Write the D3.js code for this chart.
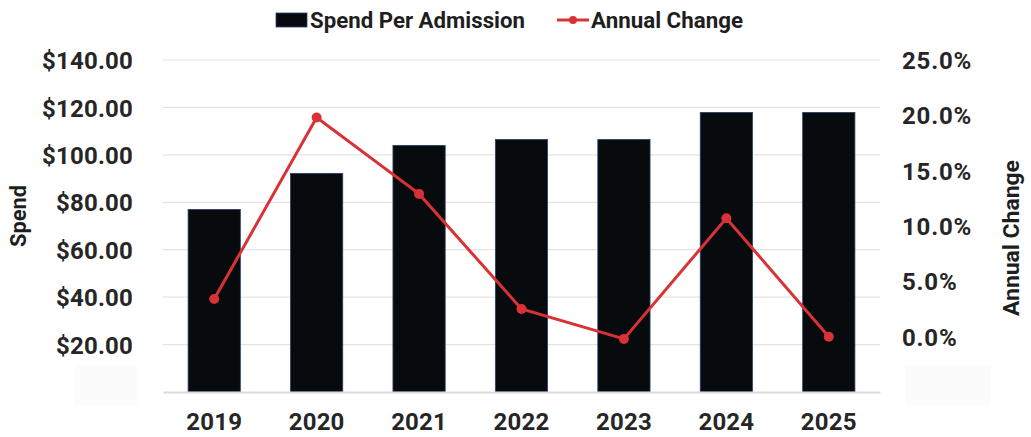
<!DOCTYPE html>
<head>
  <meta charset="utf-8">
  <script src="https://d3js.org/d3.v7.min.js"></script>
  <style>
    body { margin: 0; background: #fff; }
    .tick-label { font-family: Roboto, "Liberation Sans", sans-serif; font-weight: bold; font-size: 24px; letter-spacing: 0.2px; fill: #262626; }
    .title { font-family: Roboto, "Liberation Sans", sans-serif; font-weight: bold; font-size: 21.5px; fill: #1e1e1e; }
  </style>
</head>
<body>
<div id="my_dataviz"></div>
<script>

// data
var years = ["2019", "2020", "2021", "2022", "2023", "2024", "2025"];
var spend = [77.0, 92.2, 104.0, 106.5, 106.5, 117.9, 117.9];
var annualChange = [3.4, 19.8, 12.9, 2.5, -0.2, 10.7, 0.0];
var spendTicks = [20, 40, 60, 80, 100, 120, 140];
var changeTicks = [0, 5, 10, 15, 20, 25];

var width = 1031, height = 437;
var plot = {left: 163, right: 880, top: 60, bottom: 392};

var svg = d3.select("#my_dataviz")
  .append("svg")
    .attr("width", width)
    .attr("height", height);

var x = d3.scaleBand()
  .domain(years)
  .range([plot.left, plot.right])
  .paddingInner(0.49)
  .paddingOuter(0.245);

var y = d3.scaleLinear()
  .domain([0, 140])
  .range([plot.bottom, plot.top]);

var y2 = d3.scaleLinear()
  .domain([-5, 25])
  .range([plot.bottom, plot.top]);

// gridlines
svg.append("g")
  .selectAll("line")
  .data(spendTicks)
  .enter()
  .append("line")
    .attr("x1", plot.left)
    .attr("x2", plot.right)
    .attr("y1", function(d) { return y(d); })
    .attr("y2", function(d) { return y(d); })
    .attr("stroke", "#e4e4e4")
    .attr("stroke-width", 1.2);

// left axis
var leftAxis = svg.append("g")
  .attr("transform", "translate(" + (plot.left - 30) + ",0)")
  .call(d3.axisLeft(y).tickValues(spendTicks).tickSize(0).tickPadding(0)
    .tickFormat(function(d) { return "$" + d3.format(".2f")(d); }));
leftAxis.select(".domain").remove();
leftAxis.selectAll("text").attr("class", "tick-label").attr("dy", "0.36em");

// right axis
var rightAxis = svg.append("g")
  .attr("transform", "translate(" + (plot.right + 22) + ",0)")
  .call(d3.axisRight(y2).tickValues(changeTicks).tickSize(0).tickPadding(0)
    .tickFormat(function(d) { return d3.format(".1f")(d) + "%"; }));
rightAxis.select(".domain").remove();
rightAxis.selectAll("text").attr("class", "tick-label").attr("dy", "0.36em")
  .style("letter-spacing", "0.8px");

// faint boxes where the lowest labels sit
svg.append("rect").attr("x", 75).attr("y", 365).attr("width", 62).attr("height", 40).attr("fill", "#fbfbfb");
svg.append("rect").attr("x", 905).attr("y", 365).attr("width", 86).attr("height", 40).attr("fill", "#fbfbfb");

// bars
svg.append("g")
  .selectAll("rect")
  .data(years)
  .enter()
  .append("rect")
    .attr("x", function(d) { return x(d); })
    .attr("y", function(d, i) { return y(spend[i]); })
    .attr("width", x.bandwidth())
    .attr("height", function(d, i) { return y(0) - y(spend[i]); })
    .attr("fill", "#080b0e")
    .attr("stroke", "#2c3e6e")
    .attr("stroke-width", 0.8);

// bottom axis
var bottomAxis = svg.append("g")
  .attr("transform", "translate(0," + plot.bottom + ")")
  .call(d3.axisBottom(x).tickSize(0).tickPadding(21));
bottomAxis.select(".domain").attr("stroke", "#dcdcdc").attr("stroke-width", 2);
bottomAxis.selectAll("text").attr("class", "tick-label");

// line
var lineData = years.map(function(d, i) { return [d, annualChange[i]]; });
svg.append("path")
  .datum(lineData)
  .attr("fill", "none")
  .attr("stroke", "#d93236")
  .attr("stroke-width", 3)
  .attr("d", d3.line()
    .x(function(d) { return x(d[0]) + x.bandwidth() / 2; })
    .y(function(d) { return y2(d[1]); }));

svg.append("g")
  .selectAll("circle")
  .data(lineData)
  .enter()
  .append("circle")
    .attr("cx", function(d) { return x(d[0]) + x.bandwidth() / 2; })
    .attr("cy", function(d) { return y2(d[1]); })
    .attr("r", 5)
    .attr("fill", "#d93236");

// axis titles (condensed face squeezed to the original widths)
svg.append("text")
  .attr("class", "title")
  .attr("text-anchor", "middle")
  .attr("transform", "translate(26,216) rotate(-90)")
  .attr("textLength", 62).attr("lengthAdjust", "spacingAndGlyphs")
  .text("Spend");

svg.append("text")
  .attr("class", "title")
  .attr("text-anchor", "middle")
  .attr("transform", "translate(1019,238) rotate(-90)")
  .attr("textLength", 156).attr("lengthAdjust", "spacingAndGlyphs")
  .text("Annual Change");

// legend
svg.append("rect")
  .attr("x", 276).attr("y", 13).attr("width", 31).attr("height", 14)
  .attr("fill", "#080b0e").attr("stroke", "#2c3e6e").attr("stroke-width", 0.8);
svg.append("text")
  .attr("class", "title")
  .attr("x", 310).attr("y", 28)
  .attr("textLength", 215).attr("lengthAdjust", "spacingAndGlyphs")
  .text("Spend Per Admission");

svg.append("line")
  .attr("x1", 557).attr("x2", 589).attr("y1", 20).attr("y2", 20)
  .attr("stroke", "#d93236").attr("stroke-width", 3);
svg.append("circle")
  .attr("cx", 573).attr("cy", 20).attr("r", 4)
  .attr("fill", "#d93236");
svg.append("text")
  .attr("class", "title")
  .attr("x", 591).attr("y", 28)
  .attr("textLength", 152).attr("lengthAdjust", "spacingAndGlyphs")
  .text("Annual Change");

</script>
</body>
